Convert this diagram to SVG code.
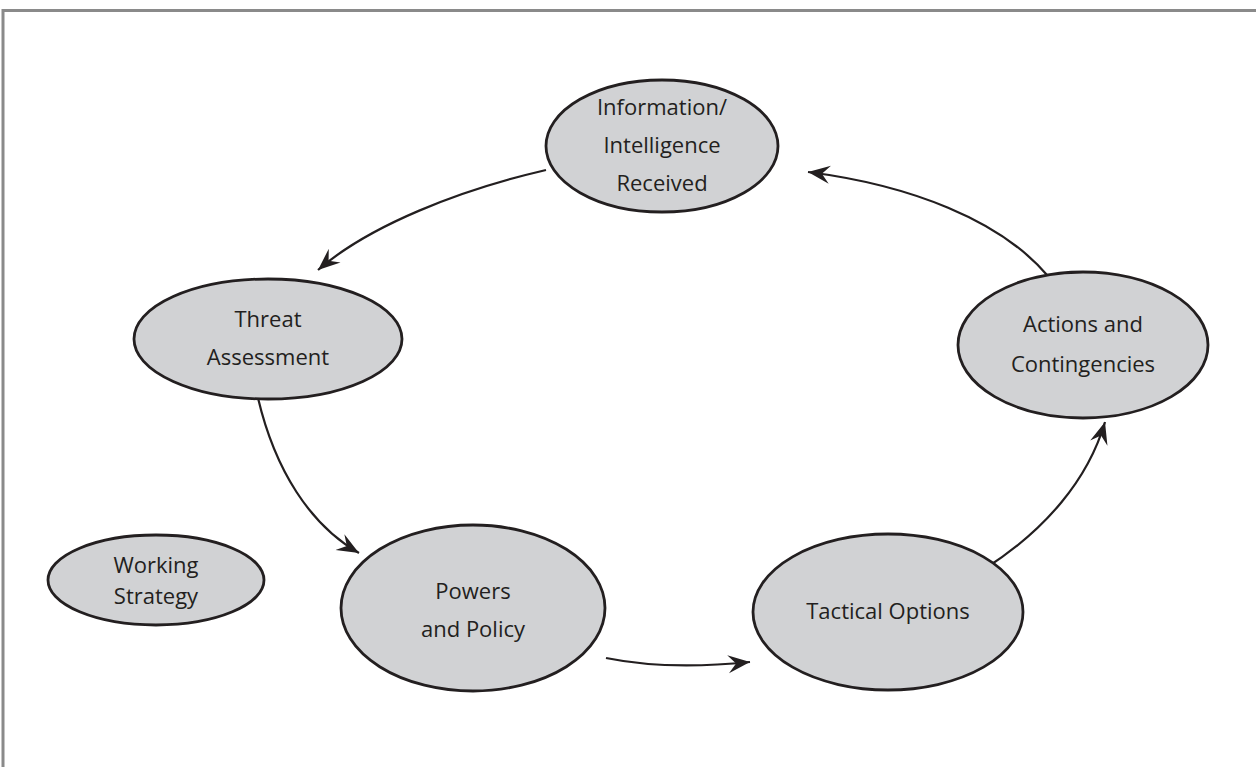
<svg xmlns="http://www.w3.org/2000/svg" width="1256" height="767" viewBox="0 0 1256 767">
<style>
.node ellipse{fill:#d1d2d4;stroke:#231f20;stroke-width:2.8}
.node text{font-family:"Open Sans","Noto Sans","Liberation Sans",sans-serif;font-size:22px;fill:#231f20;text-anchor:middle}
.conn path{fill:none;stroke:#231f20;stroke-width:2.2;marker-end:url(#ah)}
.frame{stroke:#8a8a8a;stroke-width:3;fill:none}
</style>
<defs>
<marker id="ah" markerUnits="userSpaceOnUse" viewBox="-22 -10 24 20" refX="0" refY="0" markerWidth="24" markerHeight="20" orient="auto">
<path d="M0,0 L-22,-9 L-14,0 L-22,9 Z" fill="#231f20"/>
</marker>
</defs>
<rect width="1256" height="767" fill="#ffffff"/>
<path class="frame" d="M3,767 V10.5 H1256"/>
<g class="conn">
<path d="M546,170 C460,190 370,225 318,270"/>
<path d="M258,398 C275,470 310,525 359,553"/>
<path d="M606,658 C650,667 700,667 750,662"/>
<path d="M986,568 C1045,530 1088,480 1105,422"/>
<path d="M1047,275 C1000,220 910,185 808,172"/>
</g>
<g class="node" id="info">
<ellipse cx="662" cy="146" rx="116" ry="66"/>
<text x="662" y="115">Information/</text>
<text x="662" y="153">Intelligence</text>
<text x="662" y="191">Received</text>
</g>
<g class="node" id="threat">
<ellipse cx="268" cy="339" rx="134" ry="60"/>
<text x="268" y="327">Threat</text>
<text x="268" y="365">Assessment</text>
</g>
<g class="node" id="working">
<ellipse cx="156" cy="580" rx="108" ry="45"/>
<text x="156" y="573">Working</text>
<text x="156" y="604">Strategy</text>
</g>
<g class="node" id="powers">
<ellipse cx="473" cy="608" rx="132" ry="83"/>
<text x="473" y="599">Powers</text>
<text x="473" y="637">and Policy</text>
</g>
<g class="node" id="tactical">
<ellipse cx="888" cy="612" rx="135" ry="78"/>
<text x="888" y="619">Tactical Options</text>
</g>
<g class="node" id="actions">
<ellipse cx="1083" cy="345" rx="125" ry="73"/>
<text x="1083" y="332">Actions and</text>
<text x="1083" y="372">Contingencies</text>
</g>
</svg>
